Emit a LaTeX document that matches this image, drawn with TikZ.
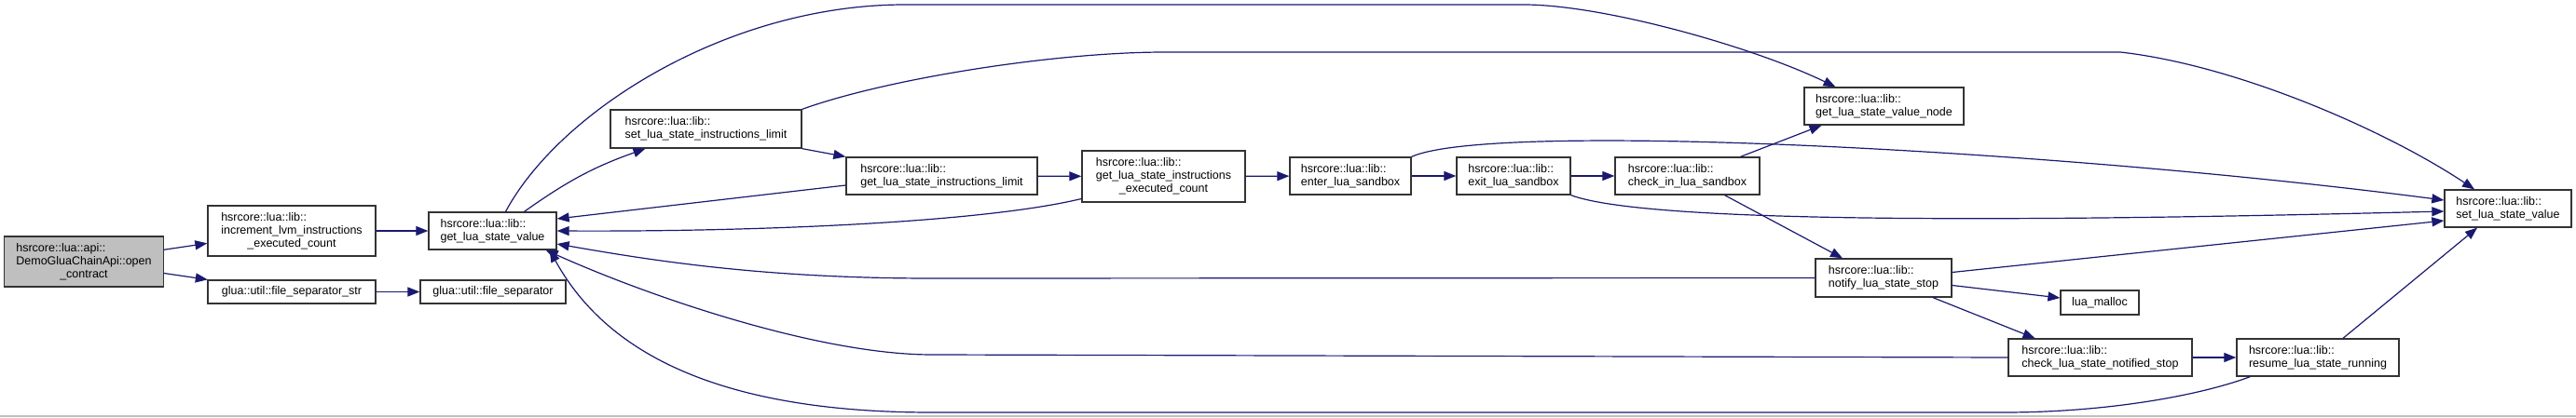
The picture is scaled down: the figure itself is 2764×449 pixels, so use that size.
\documentclass[tikz,border=0pt]{standalone}
\usepackage{fontspec}
\setmainfont{Liberation Sans}
\usetikzlibrary{arrows.meta}
\definecolor{edgeblue}{RGB}{25,25,112}
\tikzset{
  fn/.style={draw=black!80,line width=1.3pt,fill=white,inner sep=0pt,align=left,
    font=\fontsize{12.5}{14}\selectfont},
  call/.style={edgeblue,line width=1.2pt,-{Triangle[length=13pt,width=10pt]}},
}
\begin{document}
\begin{tikzpicture}[x=1pt,y=-1pt]
    \useasboundingbox (0,0) rectangle (2764,449);
    \draw[black!25,line width=2pt] (0,447) -- (2764,447);
    \node[fn,fill=black!25,minimum width=171,minimum height=54] (open) at (90,281)
      {hsrcore::lua::api::\\DemoGluaChainApi::open\\\hfill\_contract\hfill\null};
    \node[fn,minimum width=180,minimum height=54] (incr) at (313,248)
      {hsrcore::lua::lib::\\increment\_lvm\_instructions\\\hfill\_executed\_count\hfill\null};
    \node[fn,minimum width=180,minimum height=25] (fsepstr) at (313,313.5) {glua::util::file\_separator\_str};
    \node[fn,minimum width=137,minimum height=40] (getval) at (528.5,248) {hsrcore::lua::lib::\\get\_lua\_state\_value};
    \node[fn,minimum width=156,minimum height=25] (fsep) at (529,313.5) {glua::util::file\_separator};
    \node[fn,minimum width=205,minimum height=41] (setlim) at (757.5,138.5) {hsrcore::lua::lib::\\set\_lua\_state\_instructions\_limit};
    \node[fn,minimum width=205,minimum height=40] (getlim) at (1010.5,189) {hsrcore::lua::lib::\\get\_lua\_state\_instructions\_limit};
    \node[fn,minimum width=175,minimum height=55] (execnt) at (1248.5,189.5)
      {hsrcore::lua::lib::\\get\_lua\_state\_instructions\\\hfill\_executed\_count\hfill\null};
    \node[fn,minimum width=130,minimum height=40] (enter) at (1449,189) {hsrcore::lua::lib::\\enter\_lua\_sandbox};
    \node[fn,minimum width=122,minimum height=40] (exitsb) at (1624,189) {hsrcore::lua::lib::\\exit\_lua\_sandbox};
    \node[fn,minimum width=155,minimum height=40] (checkin) at (1810.5,189) {hsrcore::lua::lib::\\check\_in\_lua\_sandbox};
    \node[fn,minimum width=171,minimum height=40] (valnode) at (2021.5,114) {hsrcore::lua::lib::\\get\_lua\_state\_value\_node};
    \node[fn,minimum width=146,minimum height=41] (notify) at (2021,298.5) {hsrcore::lua::lib::\\notify\_lua\_state\_stop};
    \node[fn,minimum width=84,minimum height=26] (malloc) at (2253,325) {lua\_malloc};
    \node[fn,minimum width=197,minimum height=40] (notified) at (2253.5,384) {hsrcore::lua::lib::\\check\_lua\_state\_notified\_stop};
    \node[fn,minimum width=174,minimum height=40] (resume) at (2487,384) {hsrcore::lua::lib::\\resume\_lua\_state\_running};
    \node[fn,minimum width=136,minimum height=40] (setval) at (2691,224) {hsrcore::lua::lib::\\set\_lua\_state\_value};
    % calls
    \draw[call] (open) -- (incr);
    \draw[call] (open) -- (fsepstr);
    \draw[call] (incr) -- (getval);
    \draw[call] (fsepstr) -- (fsep);
    \draw[call] ([xshift=14pt]getval.north) .. controls (600,120) and (780,5) .. (971,5) -- (1635,5)
      .. controls (1720,5) and (1880,50) .. ([xshift=-52pt]valnode.north);
    \draw[call] ([xshift=34pt]getval.north) to[bend left=8] ([xshift=-65pt]setlim.south);
    \draw[call] (setlim.south east) -- (getlim.north west);
    \draw[call] (setlim.north east) .. controls (950,85) and (1130,56) .. (1250,56) -- (2275,56)
      .. controls (2400,70) and (2560,140) .. ([xshift=-36pt]setval.north);
    \draw[call] ([yshift=-10pt]getlim.west) -- ([yshift=13pt]getval.east);
    \draw[call] (getlim) -- (execnt);
    \draw[call] ([yshift=-24pt]execnt.west) .. controls (1050,240) and (800,249) .. (getval.east);
    \draw[call] (execnt) -- (enter);
    \draw[call] (enter) -- (exitsb);
    \draw[call] (exitsb) -- (checkin);
    \draw[call] (enter.north east) .. controls (1600,130) and (2200,160) .. ([yshift=9pt]setval.west);
    \draw[call] (exitsb.south east) .. controls (1780,245) and (2300,235) .. ([yshift=-3pt]setval.west);
    \draw[call] ([xshift=57pt]checkin.north) -- ([xshift=-67pt]valnode.south);
    \draw[call] ([xshift=40pt]checkin.south) -- ([xshift=-44pt]notify.north);
    \draw[call] (notify.west) -- (1000,299) .. controls (820,299) and (700,280) .. ([yshift=-14pt]getval.east);
    \draw[call] ([yshift=6pt]notify.east) -- ([yshift=-13pt]setval.west);
    \draw[call] ([yshift=-8pt]notify.east) -- ([yshift=5pt]malloc.west);
    \draw[call] ([xshift=53pt]notify.south) -- ([xshift=-70pt]notified.north);
    \draw[call] (notified.west) -- (1000,381) .. controls (880,381) and (700,320) .. ([xshift=-12pt]getval.south east);
    \draw[call] (notified) -- (resume);
    \draw[call] ([xshift=15pt]resume.south west) .. controls (2360,425) and (2260,443) .. (2150,443) -- (1000,443)
      .. controls (740,443) and (640,360) .. ([xshift=-8pt]getval.south east);
    \draw[call] ([xshift=27pt]resume.north) -- ([xshift=-33pt]setval.south);
\end{tikzpicture}
\end{document}
